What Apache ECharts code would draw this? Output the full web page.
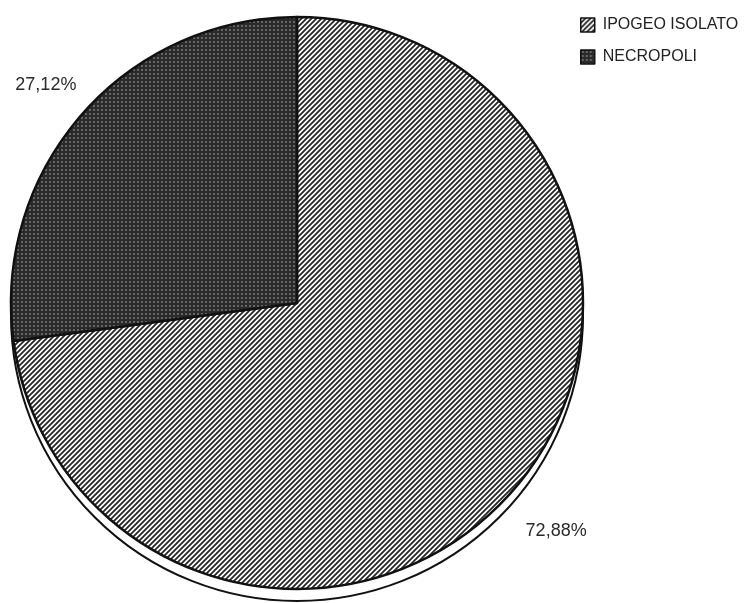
<!DOCTYPE html>
<html>
<head>
<meta charset="utf-8">
<script src="https://cdn.jsdelivr.net/npm/echarts@6/dist/echarts.min.js"></script>
<style>
  html, body { margin: 0; padding: 0; background: #fff; }
  #chart { width: 753px; height: 603px; }
</style>
</head>
<body>
<div id="chart"></div>
<script>
// Share of burial types
const categories = ['IPOGEO ISOLATO', 'NECROPOLI'];
const shares = [72.88, 27.12];
const shareLabels = ['72,88%', '27,12%'];

// Geometry of the pie
const CX = 297, CY = 303, R = 286;
const SHADOW_DY = 12;
const LABEL_R = R + 53;
const LABEL_DX = 4, LABEL_DY = 5;

// Diagonal hatch tile
function hatchPattern() {
  const s = 5;
  const c = document.createElement('canvas');
  c.width = s; c.height = s;
  const g = c.getContext('2d');
  g.fillStyle = '#ffffff';
  g.fillRect(0, 0, s, s);
  g.strokeStyle = '#262626';
  g.lineWidth = 1.8;
  g.beginPath();
  g.moveTo(-1, s + 1); g.lineTo(s + 1, -1);
  g.moveTo(-1, 1); g.lineTo(1, -1);
  g.moveTo(s - 1, s + 1); g.lineTo(s + 1, s - 1);
  g.stroke();
  return c;
}

// Dark dotted screen tile
function dotPattern() {
  const s = 4;
  const c = document.createElement('canvas');
  c.width = s; c.height = s;
  const g = c.getContext('2d');
  g.fillStyle = '#2a2a2a';
  g.fillRect(0, 0, s, s);
  g.fillStyle = '#666666';
  g.fillRect(1, 1, 2, 2);
  return c;
}

const fills = [
  { image: hatchPattern(), repeat: 'repeat' },
  { image: dotPattern(), repeat: 'repeat' }
];

const total = shares.reduce((a, b) => a + b, 0);
function midAngle(i) {
  let start = 0;
  for (let k = 0; k < i; k++) start += shares[k];
  const mid = (start + shares[i] / 2) / total * 360;
  return (90 - mid) * Math.PI / 180;
}

const chart = echarts.init(document.getElementById('chart'), null, { renderer: 'canvas' });

chart.setOption({
  animation: false,
  backgroundColor: '#ffffff',
  legend: {
    data: categories,
    orient: 'vertical',
    left: 580,
    top: 17,
    padding: 0,
    itemWidth: 14,
    itemHeight: 14,
    itemGap: 16,
    selectedMode: false,
    icon: 'rect',
    textStyle: {
      fontFamily: 'Liberation Sans, Arial, sans-serif',
      fontSize: 16,
      color: '#222',
      padding: [0, 0, 0, 3]
    },
    itemStyle: { borderColor: '#111', borderWidth: 1.5 }
  },
  series: [
    {
      // offset disc giving the pie its raised edge
      type: 'pie',
      name: 'edge',
      z: 1,
      silent: true,
      center: [CX, CY + SHADOW_DY],
      radius: R,
      startAngle: 90,
      label: { show: false },
      labelLine: { show: false },
      itemStyle: { color: '#ffffff', borderColor: '#111', borderWidth: 2 },
      data: [{ name: 'edge', value: total }]
    },
    {
      type: 'pie',
      name: 'tipologia',
      z: 2,
      center: [CX, CY],
      radius: R,
      startAngle: 90,
      clockwise: true,
      avoidLabelOverlap: false,
      itemStyle: { borderColor: '#111', borderWidth: 2.5 },
      label: {
        show: true,
        position: 'outside',
        fontFamily: 'Liberation Sans, Arial, sans-serif',
        fontSize: 18,
        color: '#2a2a2a',
        formatter: p => shareLabels[p.dataIndex]
      },
      labelLine: { show: false },
      labelLayout: p => {
        const a = midAngle(p.dataIndex);
        return {
          x: CX + LABEL_DX + LABEL_R * Math.cos(a),
          y: CY + LABEL_DY - LABEL_R * Math.sin(a),
          align: 'center',
          verticalAlign: 'middle'
        };
      },
      data: categories.map((n, i) => ({
        name: n,
        value: shares[i],
        itemStyle: { color: fills[i] }
      }))
    }
  ]
});
</script>
</body>
</html>
